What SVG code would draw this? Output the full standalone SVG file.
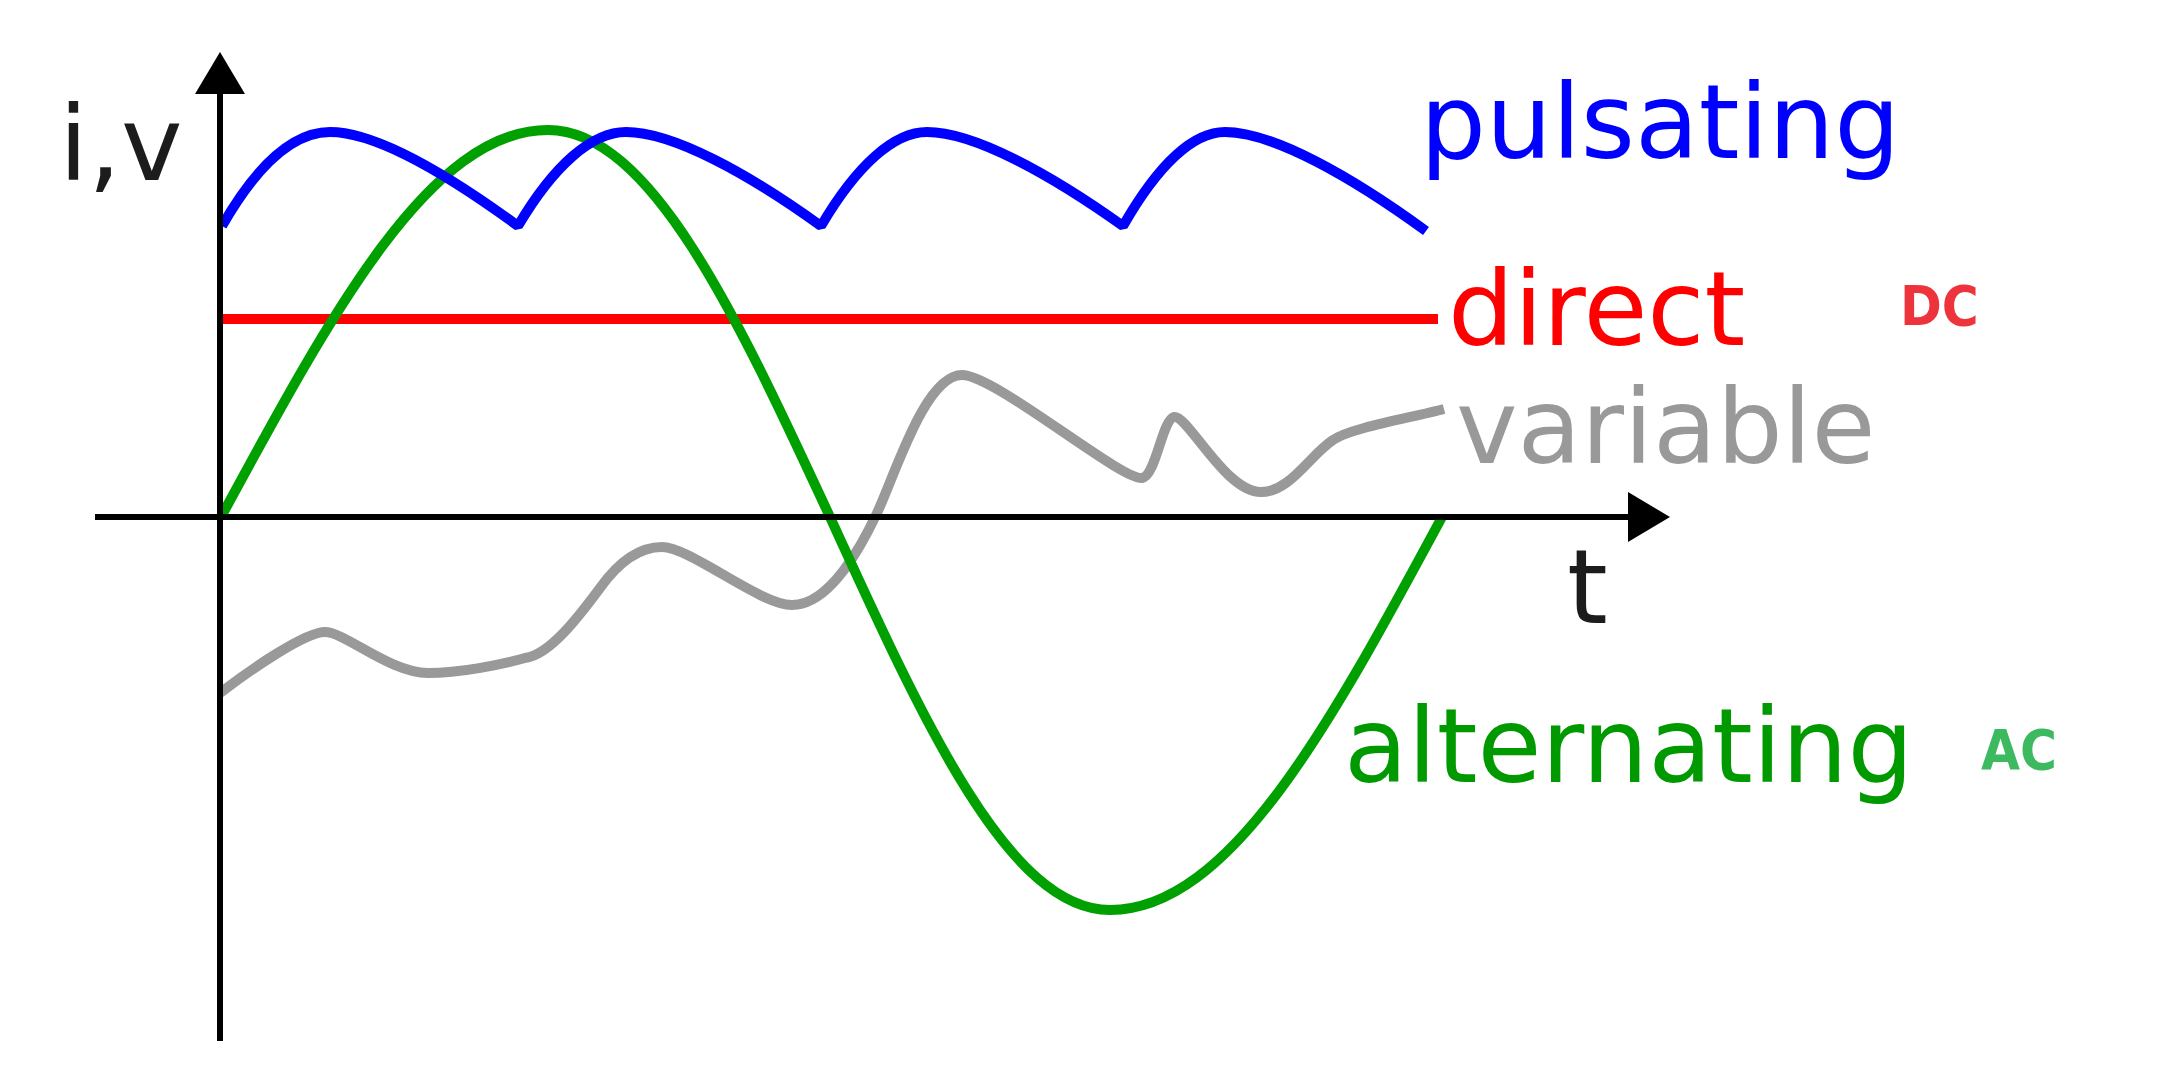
<svg xmlns="http://www.w3.org/2000/svg" width="2174" height="1065" viewBox="0 0 2174 1065">
  <style>
    .lbl { font-family: "DejaVu Sans", "Liberation Sans", sans-serif; font-size: 104px; }
    .abbr { font-family: "DejaVu Sans Condensed", "DejaVu Sans", sans-serif; font-stretch: condensed; font-weight: bold; font-size: 56px; }
    .curve { fill: none; stroke-linecap: butt; stroke-width: 10; }
    .axis { stroke: #000; stroke-width: 6; fill: none; }
  </style>
  <defs>
    <marker id="arrow" markerUnits="userSpaceOnUse" markerWidth="42" markerHeight="50" refX="0" refY="25" orient="auto" viewBox="0 0 42 50">
      <path d="M0,0 L42,25 L0,50 Z" fill="#000"/>
    </marker>
  </defs>
  <rect width="2174" height="1065" fill="#fff"/>

  <g id="curves">
    <path id="direct" class="curve" stroke="#ff0000" d="M220,319 H1438"/>
    <path id="variable" class="curve" stroke="#999999" d="M220,693 C250,670 305,632 325,632 C345,632 390,673 428,673 C460,673 500,665 525,658 C550,655 580,615 600,588 C620,560 640,547 662,547 C690,547 760,605 792,605 C830,605 862,545 877,513 C895,475 925,375 962,375 C995,375 1120,480 1142,478 C1156,476 1162,420 1174,417 C1188,415 1225,492 1261,492 C1290,492 1310,455 1333,440 C1350,428 1410,418 1444,409"/>
    <path id="alternating" class="curve" stroke="#00a000" d="M221,517 C331,314 430,130 548,130 C650,130 736,314 830,517 C924,723 1009,910 1110,910 C1230,910 1331,723 1442,517"/>
    <path id="pulsating" class="curve" stroke="#0000ff" stroke-linejoin="bevel" d="M222,226 C257,165 293,132 330,132 C375,132 447,174 518,226 C554,165 592,132 626,132 C673,132 749,174 821,226 C857,165 894,132 927,132 C974,132 1050,174 1123,226 C1158,165 1193,132 1225,132 C1273,132 1352,177 1426,231"/>
  </g>

  <g id="axes">
    <line class="axis" x1="220" y1="1041" x2="220" y2="94" marker-end="url(#arrow)"/>
    <line class="axis" x1="95" y1="517" x2="1628" y2="517" marker-end="url(#arrow)"/>
  </g>

  <g id="labels">
    <text class="lbl" x="59" y="180" fill="#1c1c1c">i,v</text>
    <text class="lbl" x="1567" y="623" fill="#1c1c1c">t</text>
    <text class="lbl" x="1420" y="158" fill="#0000ff">pulsating</text>
    <text class="lbl" x="1448" y="345" fill="#ff0000">direct</text>
    <text class="abbr" x="1900" y="325" fill="#ed333b">DC</text>
    <text class="lbl" x="1456" y="463" fill="#999999">variable</text>
    <text class="lbl" x="1344" y="782" fill="#009900">alternating</text>
    <text class="abbr" x="1981" y="769" fill="#3dba5f">AC</text>
  </g>
</svg>
